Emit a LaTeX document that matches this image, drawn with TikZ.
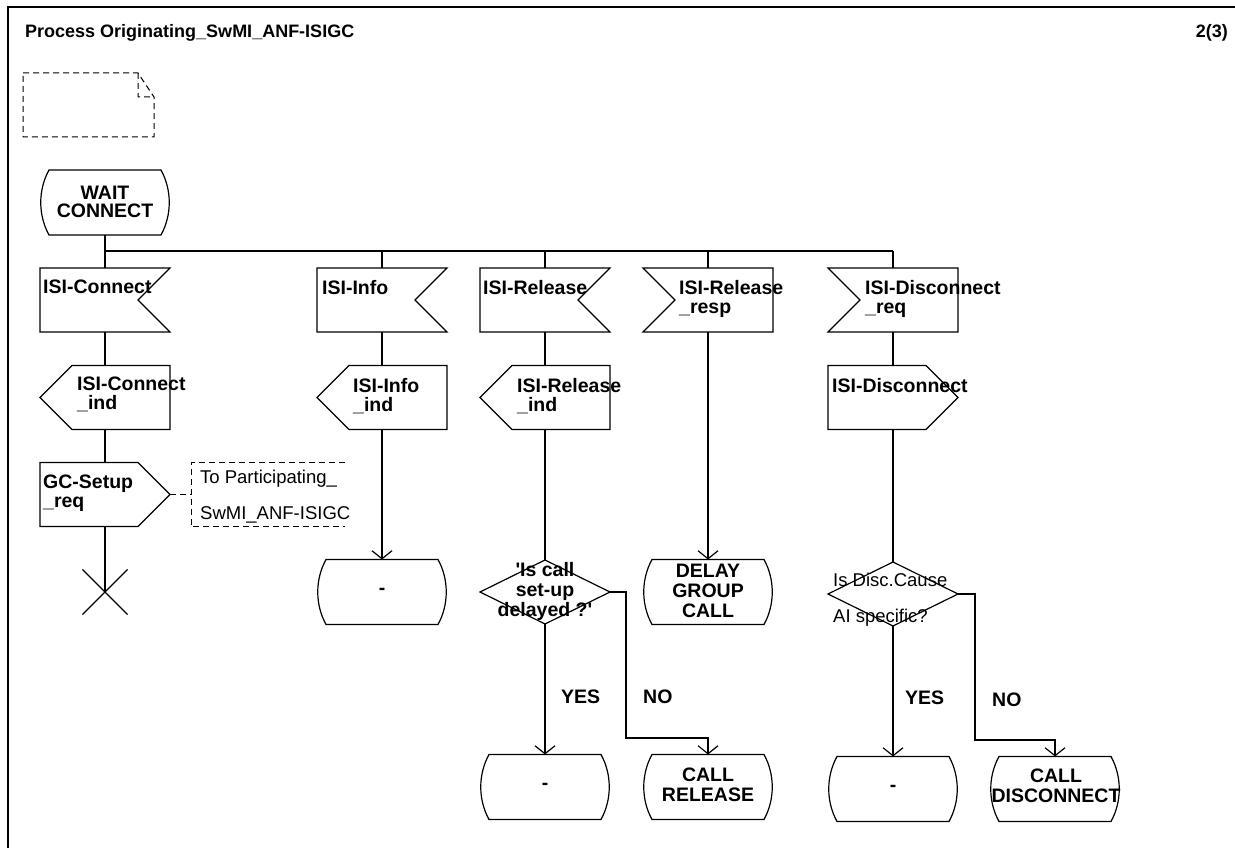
\documentclass[tikz,border=0pt]{standalone}
\usepackage{fontspec}
\setmainfont{Liberation Sans}
\usetikzlibrary{arrows.meta,shapes.misc}

\newcommand{\sdlfont}{\bfseries\fontsize{19.5}{19}\selectfont}
\newcommand{\cmtfont}{\fontsize{18.5}{36}\selectfont}

\begin{document}
\begin{tikzpicture}[x=1pt, y=-1pt,
    sdl/.style={line width=1.2pt},
    flow/.style={sdl, -{Straight Barb[length=8pt, width=20pt]}},
    cmtline/.style={line width=1pt, dash pattern=on 6pt off 4pt},
    box/.style={minimum width=130pt, minimum height=64pt, inner sep=0pt, outer sep=0pt},
    sigin/.style={box, append after command={\pgfextra{\pgfinterruptpath
        \draw[sdl] (\tikzlastnode.north west) -- (\tikzlastnode.north east)
          -- ([xshift=-32pt]\tikzlastnode.east) -- (\tikzlastnode.south east)
          -- (\tikzlastnode.south west) -- cycle;\endpgfinterruptpath}}},
    sigfrom/.style={box, append after command={\pgfextra{\pgfinterruptpath
        \draw[sdl] (\tikzlastnode.north west) -- (\tikzlastnode.north east)
          -- (\tikzlastnode.south east) -- (\tikzlastnode.south west)
          -- ([xshift=32pt]\tikzlastnode.west) -- cycle;\endpgfinterruptpath}}},
    sigoutl/.style={box, append after command={\pgfextra{\pgfinterruptpath
        \draw[sdl] ([xshift=32pt]\tikzlastnode.north west) -- (\tikzlastnode.north east)
          -- (\tikzlastnode.south east) -- ([xshift=32pt]\tikzlastnode.south west)
          -- (\tikzlastnode.west) -- cycle;\endpgfinterruptpath}}},
    sigoutr/.style={box, append after command={\pgfextra{\pgfinterruptpath
        \draw[sdl] (\tikzlastnode.north west) -- ([xshift=-32pt]\tikzlastnode.north east)
          -- (\tikzlastnode.east) -- ([xshift=-32pt]\tikzlastnode.south east)
          -- (\tikzlastnode.south west) -- cycle;\endpgfinterruptpath}}},
    state/.style={box, minimum height=65pt, append after command={\pgfextra{\pgfinterruptpath
        \draw[sdl] ([xshift=9pt]\tikzlastnode.north west) -- ([xshift=-9pt]\tikzlastnode.north east)
          .. controls ([xshift=2pt, yshift=-20pt]\tikzlastnode.north east)
          and ([xshift=2pt, yshift=20pt]\tikzlastnode.south east) .. ([xshift=-9pt]\tikzlastnode.south east)
          -- ([xshift=9pt]\tikzlastnode.south west)
          .. controls ([xshift=-2pt, yshift=20pt]\tikzlastnode.south west)
          and ([xshift=-2pt, yshift=-20pt]\tikzlastnode.north west) .. ([xshift=9pt]\tikzlastnode.north west)
          -- cycle;\endpgfinterruptpath}}},
    decision/.style={box, append after command={\pgfextra{\pgfinterruptpath
        \draw[sdl] (\tikzlastnode.north) -- (\tikzlastnode.east) -- (\tikzlastnode.south)
          -- (\tikzlastnode.west) -- cycle;\endpgfinterruptpath}}},
    lbl/.style={font=\sdlfont, inner sep=0pt, align=left, anchor=north west},
    ctr/.style={font=\sdlfont, inner sep=0pt, align=center}
]
\useasboundingbox (0,0) rectangle (1235,848);
% frame and heading
\draw[line width=2pt] (7.5,848) -- (7.5,7) -- (1235,7);
\node[font=\bfseries\fontsize{18}{20}\selectfont, anchor=base west, inner sep=0pt] (title) at (25,38) {Process Originating\_SwMI\_ANF-ISIGC};
\node[font=\bfseries\fontsize{18}{20}\selectfont, anchor=base east, inner sep=0pt] (page) at (1228,38) {2(3)};
% text symbol
\draw[cmtline] (23,73) -- (138,73) -- (154,97) -- (154,137) -- (23,137) -- cycle
  (138,73) -- (138,97) -- (154,97);

% start state
\node[state] (wait) at (105,202.5) {};
\node[ctr, font=\bfseries\fontsize{19.5}{17.5}\selectfont] (waitT) at (105,202) {WAIT\\CONNECT};
\coordinate (bus) at (105,251);

% inputs
\node[sigin] (conn) at (105,300) {};
\node[lbl] (connT) at (43,280) {ISI-Connect};
\node[sigin] (info) at (382,300) {};
\node[lbl] (infoT) at (322,280) {ISI-Info};
\node[sigin] (rel) at (545,300) {};
\node[lbl] (relT) at (483,280) {ISI-Release};
\node[sigfrom] (relresp) at (708,300) {};
\node[lbl] (relrespT) at (679,280) {ISI-Release\\\_resp};
\node[sigfrom] (disreq) at (893,300) {};
\node[lbl] (disreqT) at (865,280) {ISI-Disconnect\\\_req};

% outputs
\node[sigoutl] (conind) at (105,397.5) {};
\node[lbl] (conindT) at (77,377) {ISI-Connect\\\_ind};
\node[sigoutl] (infoind) at (382,397.5) {};
\node[lbl] (infoindT) at (353,378) {ISI-Info\\\_ind};
\node[sigoutl] (relind) at (545,397.5) {};
\node[lbl] (relindT) at (517,378) {ISI-Release\\\_ind};
\node[sigoutr] (disc) at (893,397.5) {};
\node[lbl] (discT) at (832,378) {ISI-Disconnect};
\node[sigoutr] (gcs) at (105,494.5) {};
\node[lbl] (gcsT) at (43,475) {GC-Setup\\\_req};
\node[box, minimum width=154pt] (cmt) at (268,494.5) {};
\node[font=\cmtfont, inner sep=0pt, align=left, anchor=north west] (cmtT) at (200,470) {To Participating\_\\SwMI\_ANF-ISIGC};
\node[draw, sdl, cross out, minimum size=44pt, inner sep=0pt] (stop) at (105,592) {};

% second row
\node[state] (infost) at (382,592) {};
\node[ctr] (infostT) at (382,591) {-};
\node[decision] (dec1) at (545,592) {};
\node[ctr, font=\bfseries\fontsize{19.5}{20}\selectfont] (dec1T) at (545,591) {\textquotesingle Is call\\set-up\\delayed ?\textquotesingle};
\node[state] (delay) at (708,592) {};
\node[ctr, font=\bfseries\fontsize{19.5}{20}\selectfont] (delayT) at (708,591) {DELAY\\GROUP\\CALL};
\node[decision] (dec2) at (893,594) {};
\node[font=\cmtfont, inner sep=0pt, align=left, anchor=north west] (dec2T) at (833,573) {Is Disc.Cause\\AI specific?};

% last row
\node[state] (yes1) at (545,787) {};
\node[ctr] (yes1T) at (545,786) {-};
\node[state] (callrel) at (708,787) {};
\node[ctr, font=\bfseries\fontsize{19.5}{20}\selectfont] (callrelT) at (708,785) {CALL\\RELEASE};
\node[state] (yes2) at (893,789) {};
\node[ctr] (yes2T) at (893,788) {-};
\node[state] (calldisc) at (1055,789) {};
\node[ctr, font=\bfseries\fontsize{19.5}{20}\selectfont] (calldiscT) at (1056,786) {CALL\\DISCONNECT};
\node[lbl, anchor=west] (yesA) at (561,697) {YES};
\node[lbl, anchor=west] (noA) at (643,697) {NO};
\node[lbl, anchor=west] (yesB) at (905,698) {YES};
\node[lbl, anchor=west] (noB) at (992,700) {NO};

% connectors
\draw[sdl] (wait.south) -- (conn.north);
\draw[sdl, line width=1.8pt] (bus) -- (bus -| disreq.north);
\foreach \n in {info,rel,relresp,disreq}
  \draw[sdl] (\n.north |- bus) -- (\n.north);
\draw[sdl] (conn.south) -- (conind.north);
\draw[sdl] (conind.south) -- (gcs.north);
\draw[sdl] (gcs.south) -- (stop.center);
\draw[cmtline] (gcs.east) -- (cmt.west);
\draw[cmtline] (cmt.north east) -- (cmt.north west) -- (cmt.south west) -- (cmt.south east);
\draw[sdl] (info.south) -- (infoind.north);
\draw[flow] (infoind.south) -- (infost.north);
\draw[sdl] (rel.south) -- (relind.north);
\draw[sdl] (relind.south) -- (dec1.north);
\draw[flow] (relresp.south) -- (delay.north);
\draw[sdl] (disreq.south) -- (disc.north);
\draw[sdl] (disc.south) -- (dec2.north);
\draw[flow] (dec1.south) -- (yes1.north);
\coordinate (no1) at (626,738);
\draw[flow] (dec1.east) -| (no1) -| (callrel.north);
\draw[flow] (dec2.south) -- (yes2.north);
\coordinate (no2) at (975,740);
\draw[flow] (dec2.east) -| (no2) -| (calldisc.north);
\end{tikzpicture}
\end{document}
